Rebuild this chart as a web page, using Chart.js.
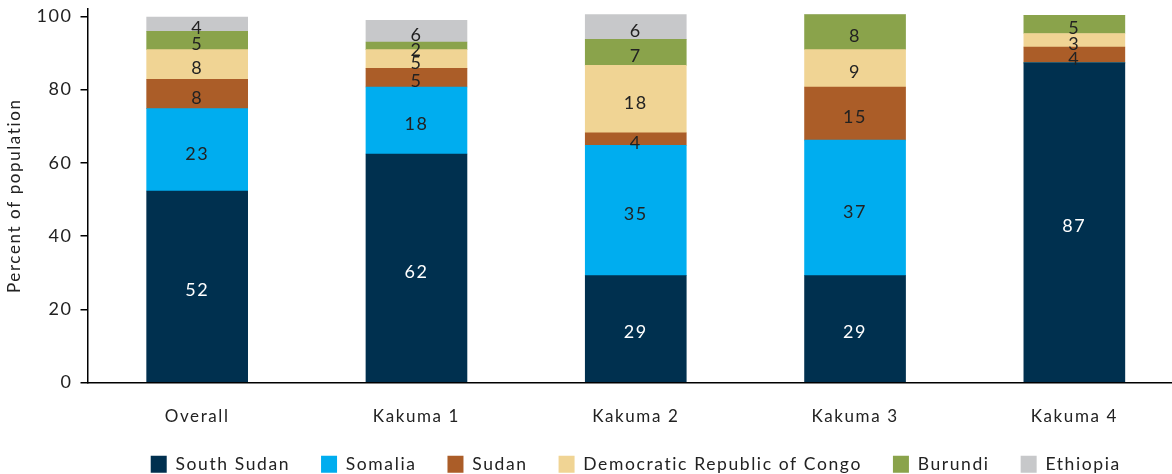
<!DOCTYPE html>
<html>
<head>
<meta charset="utf-8">
<script src="https://cdn.jsdelivr.net/npm/chart.js@4"></script>
<style>
    html, body { margin: 0; padding: 0; background: #fff; overflow: hidden; }
    #wrap { position: absolute; left: 0; top: 0; width: 1184px; height: 474px; }
</style>
</head>
<body>
<div id="wrap"><canvas id="chart"></canvas></div>
<script>
const categories = ["Overall", "Kakuma 1", "Kakuma 2", "Kakuma 3", "Kakuma 4"];

// segment heights as drawn
const southSudan = [52.3, 62.4, 29.2, 29.2, 87.3];
const somalia = [22.5, 18.3, 35.6, 37.0, 0];
const sudan = [8.0, 5.1, 3.4, 14.5, 4.3];
const drc = [8.1, 5.1, 18.4, 10.2, 3.7];
const burundi = [5.0, 2.1, 7.1, 9.6, 5.0];
const ethiopia = [3.9, 5.9, 6.8, 0, 0];

// numbers printed on the segments
const southSudanLabels = [52, 62, 29, 29, 87];
const somaliaLabels = [23, 18, 35, 37, null];
const sudanLabels = [8, 5, 4, 15, 4];
const drcLabels = [8, 5, 18, 9, 3];
const burundiLabels = [5, 2, 7, 8, 5];
const ethiopiaLabels = [4, 6, 6, null, null];

const yTicks = [0, 20, 40, 60, 80, 100];

const FONT = "Lato, 'Open Sans', sans-serif";
const SPACING = "1.6px";

// wide tracking like the original typeface (canvas state resets on resize)
const tracking = {
    id: "tracking",
    beforeLayout(chart) { chart.ctx.letterSpacing = SPACING; },
    beforeDraw(chart) { chart.ctx.letterSpacing = SPACING; }
};

// draws the value inside each segment
const segmentLabels = {
    id: "segmentLabels",
    afterDatasetsDraw(chart) {
        const ctx = chart.ctx;
        ctx.save();
        ctx.font = "18px " + FONT;
        ctx.textAlign = "center";
        ctx.textBaseline = "middle";
        chart.data.datasets.forEach((ds, i) => {
            const meta = chart.getDatasetMeta(i);
            meta.data.forEach((bar, j) => {
                const text = ds.printed[j];
                if (text === null || text === undefined) return;
                ctx.fillStyle = ds.labelColor;
                ctx.fillText(String(text), bar.x, (bar.y + bar.base) / 2 + 4);
            });
        });
        ctx.restore();
    }
};

function makeSet(label, data, printed, color, labelColor) {
    return {
        label: label,
        data: data,
        printed: printed,
        backgroundColor: color,
        labelColor: labelColor,
        borderWidth: 0,
        barThickness: 101,
        clip: false
    };
}

new Chart(document.getElementById("chart"), {
    type: "bar",
    data: {
        labels: categories,
        datasets: [
            makeSet("South Sudan", southSudan, southSudanLabels, "#00304f", "#ffffff"),
            makeSet("Somalia", somalia, somaliaLabels, "#00adef", "#222222"),
            makeSet("Sudan", sudan, sudanLabels, "#ab5d28", "#222222"),
            makeSet("Democratic Republic of Congo", drc, drcLabels, "#f0d494", "#222222"),
            makeSet("Burundi", burundi, burundiLabels, "#8aa34b", "#222222"),
            makeSet("Ethiopia", ethiopia, ethiopiaLabels, "#c7c8ca", "#222222")
        ]
    },
    options: {
        responsive: true,
        maintainAspectRatio: false,
        animation: false,
        layout: { padding: { top: 9, right: 0, bottom: -9, left: 0 } },
        plugins: {
            tooltip: { enabled: false },
            legend: {
                position: "bottom",
                fullSize: false,
                labels: {
                    boxWidth: 16,
                    boxHeight: 17,
                    padding: 31,
                    color: "#222",
                    font: { family: FONT, size: 17.5 }
                }
            }
        },
        scales: {
            x: {
                stacked: true,
                grid: { display: false, drawTicks: false },
                border: { color: "#000", width: 1.5 },
                ticks: { color: "#222", padding: 23.5, font: { family: FONT, size: 17 } },
                afterFit: scale => { scale.height = 42; }
            },
            y: {
                stacked: true,
                min: 0,
                max: 102,
                afterBuildTicks: scale => {
                    scale.ticks = yTicks.map(v => ({ value: v }));
                },
                afterFit: scale => {
                    scale.paddingTop = 0;
                    scale.paddingBottom = 0;
                },
                grid: { drawOnChartArea: false, tickLength: 7, color: "#000", lineWidth: 1.5 },
                border: { color: "#000", width: 1.5 },
                ticks: { color: "#222", padding: 8, font: { family: FONT, size: 18 } },
                title: {
                    display: true,
                    text: "Percent of population",
                    color: "#222",
                    font: { family: FONT, size: 17 }
                }
            }
        }
    },
    plugins: [tracking, segmentLabels]
});
</script>
</body>
</html>
